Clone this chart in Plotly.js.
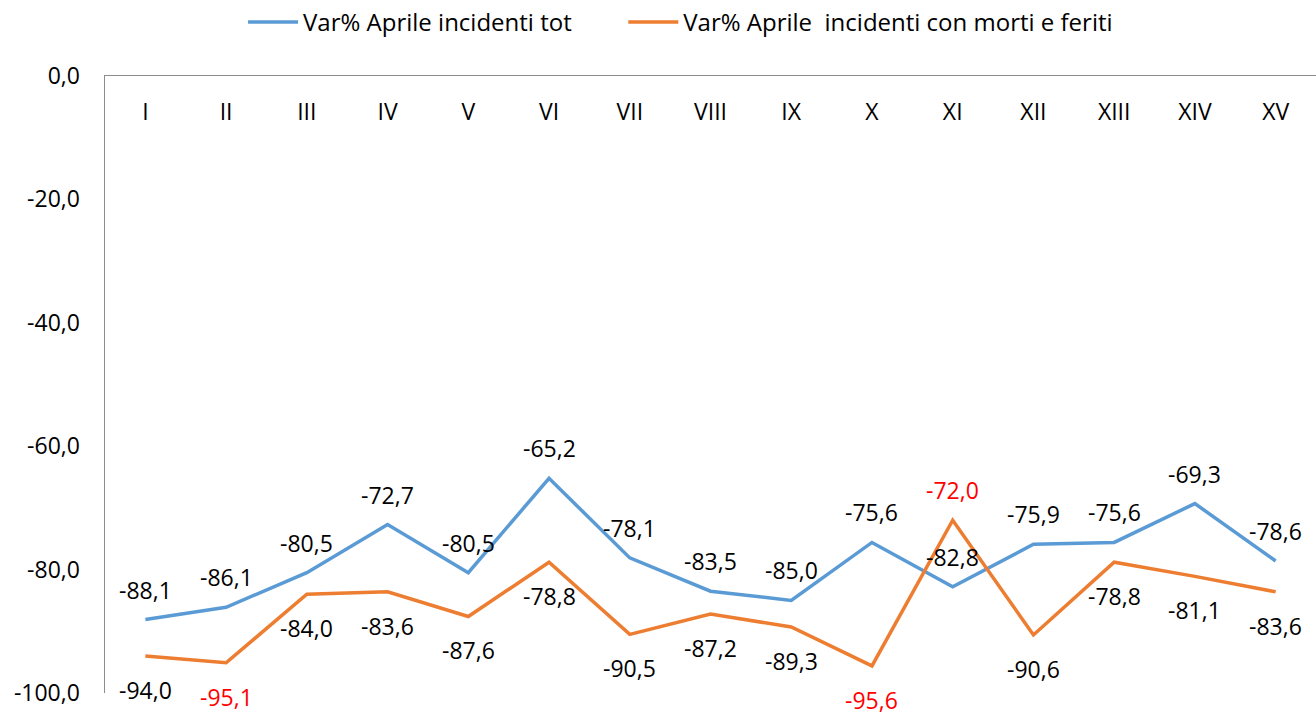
<!DOCTYPE html>
<html>
<head>
<meta charset="utf-8">
<script src="https://cdn.plot.ly/plotly-3.0.1.min.js"></script>
<style>html,body{margin:0;padding:0;background:#fff}#chart{width:1316px;height:713px}</style>
</head>
<body>
<div id="chart"></div>
<script>
const categories = ["I","II","III","IV","V","VI","VII","VIII","IX","X","XI","XII","XIII","XIV","XV"];
const seriesTotName = "Var% Aprile incidenti tot";
const seriesTot = [-88.1,-86.1,-80.5,-72.7,-80.5,-65.2,-78.1,-83.5,-85.0,-75.6,-82.8,-75.9,-75.6,-69.3,-78.6];
const seriesMfName = "Var% Aprile  incidenti con morti e feriti";
const seriesMf = [-94.0,-95.1,-84.0,-83.6,-87.6,-78.8,-90.5,-87.2,-89.3,-95.6,-72.0,-90.6,-78.8,-81.1,-83.6];
// label placement / colour for the second series
const mfLabelAbove = [false,false,false,false,false,false,false,false,false,false,true,false,false,false,false];
const mfLabelRed = [false,true,false,false,false,false,false,false,false,true,true,false,false,false,false];
const yTickVals = [0,-20,-40,-60,-80,-100];

const FONT = "'Open Sans', 'Noto Sans', sans-serif";
const fmt = v => v.toFixed(1).replace('.', ',');

const traces = [
  {x: categories, y: seriesTot, name: seriesTotName, type: 'scatter', mode: 'lines',
   line: {color: '#5B9BD5', width: 3.5}, hoverinfo: 'none', legend: 'legend'},
  {x: categories, y: seriesMf, name: seriesMfName, type: 'scatter', mode: 'lines',
   line: {color: '#ED7D31', width: 3.5}, hoverinfo: 'none', legend: 'legend2'}
];

const annotations = [];
categories.forEach((c, i) => {
  annotations.push({x: c, y: seriesTot[i], xref: 'x', yref: 'y', text: fmt(seriesTot[i]),
    showarrow: false, yshift: 30, font: {family: FONT, size: 23, color: '#000'}});
  annotations.push({x: c, y: seriesMf[i], xref: 'x', yref: 'y', text: fmt(seriesMf[i]),
    showarrow: false, yshift: mfLabelAbove[i] ? 30 : -34,
    font: {family: FONT, size: 23, color: mfLabelRed[i] ? '#FF0000' : '#000'}});
});

const legendFont = {family: FONT, size: 24, color: '#000'};
const layout = {
  width: 1316, height: 713,
  margin: {l: 105, r: 0, t: 75, b: 20},
  paper_bgcolor: '#fff', plot_bgcolor: '#fff',
  font: {family: FONT, size: 23, color: '#000'},
  showlegend: true,
  legend: {orientation: 'h', x: 0.114, xanchor: 'left', y: 1.086, yanchor: 'middle',
    font: legendFont, itemwidth: 50, bgcolor: 'rgba(0,0,0,0)'},
  legend2: {orientation: 'h', x: 0.428, xanchor: 'left', y: 1.086, yanchor: 'middle',
    font: legendFont, itemwidth: 50, bgcolor: 'rgba(0,0,0,0)'},
  xaxis: {type: 'category', side: 'top', range: [-0.5, 14.5], showline: true, linecolor: '#8c8c8c',
    linewidth: 1.5, showgrid: false, zeroline: false, ticks: '', ticklabelposition: 'outside',
    ticklabelstandoff: -55, tickfont: {family: FONT, size: 23, color: '#000'}, fixedrange: true},
  yaxis: {range: [-100, 0], tickvals: yTickVals, ticktext: yTickVals.map(fmt), showline: true,
    linecolor: '#8c8c8c', linewidth: 1.5, showgrid: false, zeroline: false, ticks: '',
    ticklabelstandoff: 19, tickfont: {family: FONT, size: 23, color: '#000'}, fixedrange: true},
  annotations: annotations
};

Plotly.newPlot('chart', traces, layout, {displayModeBar: false, staticPlot: true});
</script>
</body>
</html>
